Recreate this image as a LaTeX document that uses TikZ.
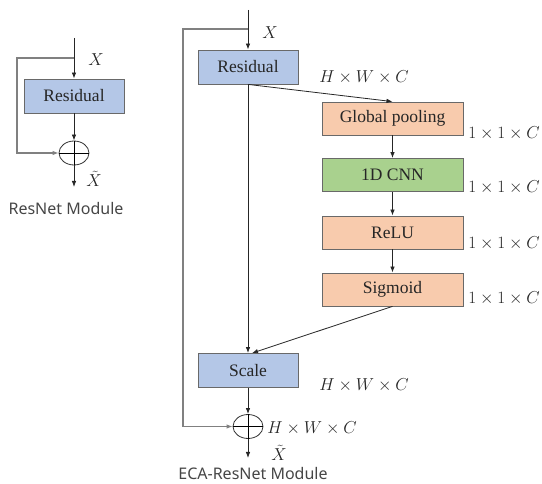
\documentclass[tikz,border=0pt]{standalone}
\usepackage{fontspec}
\setmainfont{Liberation Serif}
\newfontfamily\captionfont{Noto Sans}
\usetikzlibrary{arrows.meta,%
                shapes.geometric}

\definecolor{resblue}{RGB}{180,199,231}
\definecolor{poolorange}{RGB}{248,203,173}
\definecolor{cnngreen}{RGB}{169,209,142}
\definecolor{edgegray}{RGB}{105,105,105}
\definecolor{skipgray}{RGB}{128,128,128}
\definecolor{captiongray}{RGB}{70,70,70}

\begin{document}
\begin{tikzpicture}[x=1pt,y=-1pt]
  \tikzstyle{Box}=[draw=edgegray,line width=0.8pt,minimum height=34pt,inner sep=0pt,
                   font=\fontsize{17.5}{20}\selectfont,text=black!85]
  \tikzstyle{Sum}=[draw=black!80,ellipse,line width=0.8pt,minimum width=30pt,
                   minimum height=24pt,inner sep=0pt]
  \tikzstyle{Line}=[draw=black!85,line width=0.8pt]
  \tikzstyle{Arrow}=[Line,-{Latex[length=6pt,width=4.5pt]}]
  \tikzstyle{Skip}=[draw=skipgray,line width=1.1pt,-{Latex[length=6pt,width=4.5pt]}]
  \tikzstyle{Dim}=[font=\fontsize{16.5}{19}\selectfont,text=black!85,inner sep=0pt]
  \tikzstyle{Caption}=[font=\captionfont\fontsize{16}{19}\selectfont,text=captiongray,inner sep=0pt]

  \useasboundingbox (0,0) rectangle (542,484);

  % ResNet module
  \coordinate (in1) at (74,38);
  \coordinate (br1) at (74,58);
  \coordinate (out1) at (74,187);
  \node[Box,fill=resblue,minimum width=100pt] (res1) at (74,96) {Residual};
  \node[Sum] (add1) at (74,153) {};
  \draw (add1.north) -- (add1.south) (add1.west) -- (add1.east);

  \draw[Line] (in1) -- (br1);
  \draw[Arrow] (br1) -- (res1);
  \draw[Arrow] (res1) -- (add1);
  \draw[Skip] (br1) -- ++(-57,0) |- (add1.west);
  \draw[Arrow] (add1) -- (out1);

  \node[Dim] at (96,60) {$X$};
  \node[Dim] at (94,179) {$\tilde{X}$};
  \node[Caption] (cap1) at (66,209) {ResNet Module};

  % ECA-ResNet module
  \coordinate (in2) at (248,10);
  \coordinate (br2) at (248,29);
  \coordinate (out2) at (248,458);
  \node[Box,fill=resblue,minimum width=100pt] (res2) at (248,67) {Residual};
  \node[Box,fill=poolorange,minimum width=141pt,minimum height=33pt] (pool) at (392.5,118.5) {Global pooling};
  \node[Box,fill=cnngreen,minimum width=141pt,minimum height=33pt] (cnn) at (392.5,175) {1D CNN};
  \node[Box,fill=poolorange,minimum width=141pt,minimum height=33pt] (relu) at (392.5,232.5) {ReLU};
  \node[Box,fill=poolorange,minimum width=141pt,minimum height=33pt] (sig) at (392.5,289.5) {Sigmoid};
  \node[Box,fill=resblue,minimum width=100pt] (scale) at (248,370.5) {Scale};
  \node[Sum] (add2) at (248,426.5) {};
  \draw (add2.north) -- (add2.south) (add2.west) -- (add2.east);

  \draw[Line] (in2) -- (br2);
  \draw[Arrow] (br2) -- (res2);
  \draw[Arrow] (res2.south) -- (pool.north);
  \draw[Arrow] (pool) -- (cnn);
  \draw[Arrow] (cnn) -- (relu);
  \draw[Arrow] (relu) -- (sig);
  \draw[Arrow] (sig.south) -- ([xshift=4pt]scale.north);
  \draw[Arrow] (res2) -- (scale);
  \draw[Arrow] (scale) -- (add2);
  \draw[Skip] (br2) -- ++(-65,0) |- (add2.west);
  \draw[Arrow] (add2) -- (out2);

  \node[Dim] at (270,33) {$X$};
  \node[Dim] at (364,77) {$H\times W\times C$};
  \node[Dim] at (504,133) {$1\times 1\times C$};
  \node[Dim] at (504,187) {$1\times 1\times C$};
  \node[Dim] at (504,243) {$1\times 1\times C$};
  \node[Dim] at (504,298) {$1\times 1\times C$};
  \node[Dim] at (364,385) {$H\times W\times C$};
  \node[Dim] at (312,428) {$H\times W\times C$};
  \node[Dim] at (279,453) {$\tilde{X}$};
  \node[Caption] (cap2) at (253,473) {ECA-ResNet Module};
\end{tikzpicture}
\end{document}
